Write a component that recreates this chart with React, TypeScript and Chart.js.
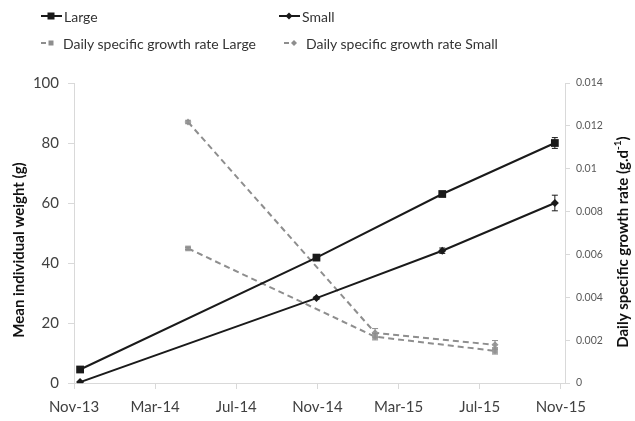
import React, { useEffect, useRef } from "react";
import { Chart, registerables } from "chart.js";

Chart.register(...registerables);

// ---- data ----
const monthTicks = [0, 4, 8, 12, 16, 20, 24];
const monthLabels = ["Nov-13", "Mar-14", "Jul-14", "Nov-14", "Mar-15", "Jul-15", "Nov-15"];
const weightTicks = [0, 20, 40, 60, 80, 100];
const rateTicks = [0, 0.002, 0.004, 0.006, 0.008, 0.01, 0.012, 0.014];
const rateTickLabels = ["0", "0.002", "0.004", "0.006", "0.008", "0.01", "0.012", "0.014"];

const weightMonths = [0.3, 11.95, 18.15, 23.7];
const largeWeight = [4.5, 41.8, 63, 80];
const largeWeightErr = [0.3, 0.6, 0.8, 1.8];
const smallWeight = [0.3, 28.3, 44.1, 60];
const smallWeightErr = [0.2, 0.4, 0.9, 2.6];

const rateMonths = [5.62, 14.84, 20.75];
const largeRate = [0.00628, 0.00216, 0.0015];
const largeRateErr = [0.00005, 0.00015, 0.00015];
const smallRate = [0.01218, 0.00234, 0.00178];
const smallRateErr = [0.00008, 0.0002, 0.0002];

const seriesNames = [
  "Large",
  "Small",
  "Daily specific growth rate Large",
  "Daily specific growth rate Small",
];

const BLACK = "#1a1a1a";
const GREY = "#8e8e8e";
const AXIS = "#d9d9d9";
const FONT = "Lato, 'Open Sans', sans-serif";

const toPoints = (xs: number[], ys: number[]) => xs.map((x, i) => ({ x, y: ys[i] }));

const errorBarPlugin = {
  id: "errorBars",
  afterDatasetsDraw(chart: any) {
    const ctx = chart.ctx;
    chart.data.datasets.forEach((ds: any, i: number) => {
      const errs = ds.errors;
      if (!errs) return;
      const meta = chart.getDatasetMeta(i);
      const yScale = chart.scales[ds.yAxisID];
      meta.data.forEach((pt: any, j: number) => {
        const v = ds.data[j].y;
        const e = errs[j];
        const y1 = yScale.getPixelForValue(v + e);
        const y2 = yScale.getPixelForValue(v - e);
        ctx.save();
        ctx.strokeStyle = ds.borderColor;
        ctx.lineWidth = 1;
        ctx.beginPath();
        ctx.moveTo(pt.x, y1);
        ctx.lineTo(pt.x, y2);
        ctx.moveTo(pt.x - 3, y1);
        ctx.lineTo(pt.x + 3, y1);
        ctx.moveTo(pt.x - 3, y2);
        ctx.lineTo(pt.x + 3, y2);
        ctx.stroke();
        ctx.restore();
      });
    });
  },
};

const titlePlugin = {
  id: "axisTitles",
  afterDraw(chart: any) {
    const ctx = chart.ctx;
    ctx.save();
    ctx.fillStyle = "#111";
    ctx.textBaseline = "middle";
    ctx.textAlign = "center";
    // left title
    ctx.save();
    ctx.translate(19, 250);
    ctx.rotate(-Math.PI / 2);
    ctx.font = `bold 15px ${FONT}`;
    ctx.fillText("Mean individual weight (g)", 0, 0);
    ctx.restore();
    // right title with superscript
    ctx.save();
    ctx.translate(623, 242);
    ctx.rotate(-Math.PI / 2);
    const main = "Daily specific growth rate (g.d";
    const sup = "-1";
    const end = ")";
    const bigFont = `bold 15px ${FONT}`;
    const smallFont = `bold 10px ${FONT}`;
    ctx.font = bigFont;
    const wMain = ctx.measureText(main).width;
    const wEnd = ctx.measureText(end).width;
    ctx.font = smallFont;
    const wSup = ctx.measureText(sup).width;
    const total = wMain + wSup + wEnd;
    let x = -total / 2;
    ctx.textAlign = "left";
    ctx.font = bigFont;
    ctx.fillText(main, x, 0);
    x += wMain;
    ctx.font = smallFont;
    ctx.fillText(sup, x, -5);
    x += wSup;
    ctx.font = bigFont;
    ctx.fillText(end, x, 0);
    ctx.restore();
    ctx.restore();
  },
};

function LegendMarker({ kind }: { kind: number }) {
  if (kind === 0) {
    return (
      <svg width="22" height="12" style={{ display: "block" }}>
        <line x1="0" y1="6" x2="21" y2="6" stroke={BLACK} strokeWidth="2" />
        <rect x="6.5" y="2.5" width="7" height="7" fill={BLACK} />
      </svg>
    );
  }
  if (kind === 1) {
    return (
      <svg width="22" height="12" style={{ display: "block" }}>
        <line x1="0" y1="6" x2="21" y2="6" stroke={BLACK} strokeWidth="2" />
        <polygon points="10,2.5 13.5,6 10,9.5 6.5,6" fill={BLACK} />
      </svg>
    );
  }
  if (kind === 2) {
    return (
      <svg width="22" height="12" style={{ display: "block" }}>
        <line x1="0" y1="6" x2="5" y2="6" stroke={GREY} strokeWidth="2" />
        <rect x="7.5" y="3.5" width="5" height="5" fill={GREY} />
      </svg>
    );
  }
  return (
    <svg width="22" height="12" style={{ display: "block" }}>
      <line x1="0" y1="6" x2="5" y2="6" stroke={GREY} strokeWidth="2" />
      <polygon points="10,3 13,6 10,9 7,6" fill={GREY} />
    </svg>
  );
}

const legendPos = [
  { left: 41, top: 16 },
  { left: 279, top: 16 },
  { left: 41, top: 43 },
  { left: 284, top: 43 },
];

export default function App() {
  const canvasRef = useRef<HTMLCanvasElement | null>(null);

  useEffect(() => {
    if (!canvasRef.current) return;
    const chart = new Chart(canvasRef.current, {
      type: "line",
      data: {
        datasets: [
          {
            label: seriesNames[0],
            data: toPoints(weightMonths, largeWeight),
            errors: largeWeightErr,
            yAxisID: "y",
            borderColor: BLACK,
            backgroundColor: BLACK,
            borderWidth: 2,
            pointStyle: "rect",
            pointRadius: 5.5,
            pointBorderWidth: 0,
            tension: 0,
          } as any,
          {
            label: seriesNames[1],
            data: toPoints(weightMonths, smallWeight),
            errors: smallWeightErr,
            yAxisID: "y",
            borderColor: BLACK,
            backgroundColor: BLACK,
            borderWidth: 2,
            pointStyle: "rectRot",
            pointRadius: 4,
            pointBorderWidth: 0,
            tension: 0,
          } as any,
          {
            label: seriesNames[2],
            data: toPoints(rateMonths, largeRate),
            errors: largeRateErr,
            yAxisID: "y1",
            borderColor: GREY,
            backgroundColor: "#9a9a9a",
            borderWidth: 2,
            borderDash: [6, 4],
            pointStyle: "rect",
            pointRadius: 4,
            pointBorderWidth: 0,
            tension: 0,
          } as any,
          {
            label: seriesNames[3],
            data: toPoints(rateMonths, smallRate),
            errors: smallRateErr,
            yAxisID: "y1",
            borderColor: GREY,
            backgroundColor: "#9a9a9a",
            borderWidth: 2,
            borderDash: [6, 4],
            pointStyle: "rectRot",
            pointRadius: 3.5,
            pointBorderWidth: 0,
            tension: 0,
          } as any,
        ],
      },
      options: {
        responsive: true,
        maintainAspectRatio: false,
        animation: false,
        layout: { padding: { top: 83, left: 0, right: 0, bottom: 0 } },
        plugins: {
          legend: { display: false },
          tooltip: { enabled: false },
        },
        scales: {
          x: {
            type: "linear",
            position: "bottom",
            min: 0,
            max: 24.2,
            afterBuildTicks: (scale: any) => {
              scale.ticks = monthTicks.map((v) => ({ value: v }));
            },
            afterFit: (scale: any) => {
              scale.height = 38;
            },
            ticks: {
              callback: (v: any) => {
                const i = monthTicks.indexOf(Number(v));
                return i >= 0 ? monthLabels[i] : "";
              },
              font: { family: FONT, size: 15 },
              color: "#404040",
              padding: 9,
              maxRotation: 0,
              autoSkip: false,
            },
            grid: {
              drawOnChartArea: false,
              drawTicks: true,
              tickLength: 6,
              color: AXIS,
            },
            border: { display: true, color: AXIS, width: 1 },
          },
          y: {
            type: "linear",
            position: "left",
            min: 0,
            max: 100,
            afterBuildTicks: (scale: any) => {
              scale.ticks = weightTicks.map((v) => ({ value: v }));
            },
            afterFit: (scale: any) => {
              scale.width = 74;
            },
            ticks: {
              font: { family: FONT, size: 15 },
              color: "#404040",
              padding: 9,
            },
            grid: {
              drawOnChartArea: false,
              drawTicks: true,
              tickLength: 6,
              color: AXIS,
            },
            border: { display: true, color: AXIS, width: 1 },
          },
          y1: {
            type: "linear",
            position: "right",
            min: 0,
            max: 0.014,
            afterBuildTicks: (scale: any) => {
              scale.ticks = rateTicks.map((v) => ({ value: v }));
            },
            afterFit: (scale: any) => {
              scale.width = 70;
            },
            ticks: {
              callback: (v: any) => {
                const i = rateTicks.findIndex((t) => Math.abs(t - Number(v)) < 1e-9);
                return i >= 0 ? rateTickLabels[i] : "";
              },
              font: { family: FONT, size: 10.5 },
              color: "#595959",
              padding: 6,
            },
            grid: {
              drawOnChartArea: false,
              drawTicks: true,
              tickLength: 5,
              color: AXIS,
            },
            border: { display: true, color: AXIS, width: 1 },
          },
        },
      },
      plugins: [errorBarPlugin, titlePlugin],
    });
    return () => chart.destroy();
  }, []);

  return (
    <div
      style={{
        position: "fixed",
        left: 0,
        top: 0,
        width: 635,
        height: 421,
        background: "#fff",
        fontFamily: FONT,
      }}
    >
      <div style={{ position: "absolute", left: 0, top: 0, width: 635, height: 421 }}>
        <canvas ref={canvasRef} />
      </div>
      {seriesNames.map((name, i) => (
        <div
          key={name}
          style={{
            position: "absolute",
            left: legendPos[i].left,
            top: legendPos[i].top - 9,
            height: 18,
            display: "flex",
            alignItems: "center",
            fontSize: 14,
            color: "#333",
            whiteSpace: "nowrap",
          }}
        >
          <LegendMarker kind={i} />
          <span style={{ marginLeft: i >= 2 ? 0 : 1 }}>{name}</span>
        </div>
      ))}
    </div>
  );
}
